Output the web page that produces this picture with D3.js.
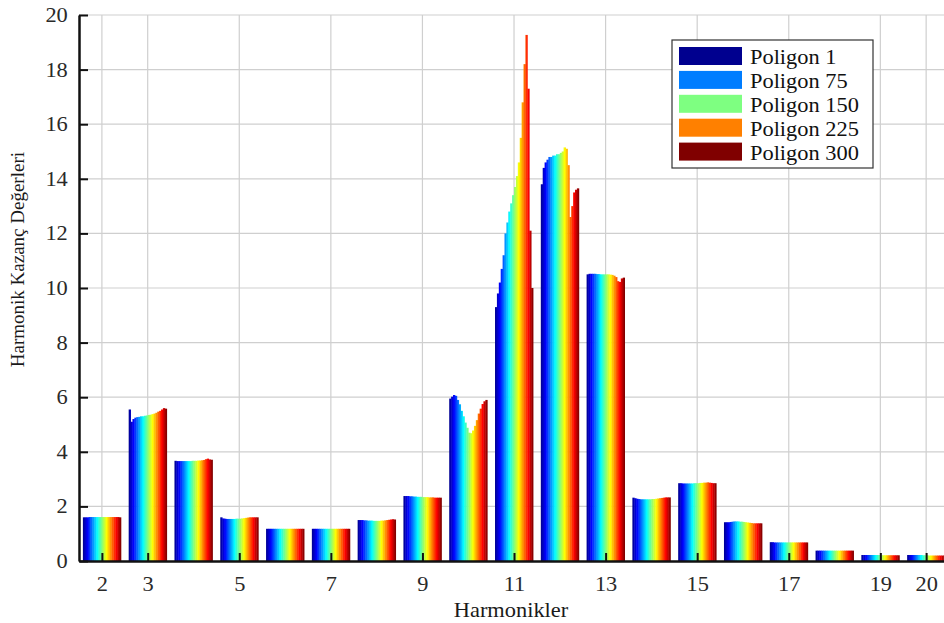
<!DOCTYPE html>
<html>
<head>
<meta charset="utf-8">
<script src="https://cdn.jsdelivr.net/npm/d3@7"></script>
<style>
  body { margin: 0; background: #fff; }
  svg text { font-family: "Liberation Serif", "Times New Roman", serif; }
</style>
</head>
<body>
<div id="chart"></div>
<script>
// harmonic orders (one bar group each) and the labelled ticks
const harmonics = [2, 3, 4, 5, 6, 7, 8, 9, 10, 11, 12, 13, 14, 15, 16, 17, 18, 19, 20];
const tickHarmonics = [2, 3, 5, 7, 9, 11, 13, 15, 17, 19, 20];
const yTicks = [0, 2, 4, 6, 8, 10, 12, 14, 16, 18, 20];

// polygon numbers read across each group (1 .. 300)
const polygons = [1, 16, 32, 48, 63, 79, 95, 111, 126, 142, 158, 174, 189, 205, 221, 237, 252, 268, 284, 300];
const legendPolygons = [1, 75, 150, 225, 300];

// gain values per harmonic, one value per polygon above
const h2  = [1.6, 1.6, 1.6, 1.61, 1.61, 1.61, 1.61, 1.61, 1.61, 1.61, 1.61, 1.61, 1.61, 1.61, 1.61, 1.61, 1.61, 1.61, 1.61, 1.6];
const h3  = [5.55, 5.1, 5.2, 5.25, 5.27, 5.28, 5.3, 5.3, 5.32, 5.33, 5.35, 5.36, 5.38, 5.4, 5.43, 5.47, 5.5, 5.55, 5.6, 5.58];
const h4  = [3.67, 3.66, 3.66, 3.66, 3.66, 3.66, 3.66, 3.66, 3.66, 3.67, 3.67, 3.67, 3.68, 3.68, 3.69, 3.7, 3.73, 3.75, 3.72, 3.71];
const h5  = [1.6, 1.56, 1.55, 1.54, 1.54, 1.54, 1.54, 1.54, 1.55, 1.55, 1.55, 1.56, 1.57, 1.58, 1.59, 1.6, 1.6, 1.6, 1.6, 1.6];
const h6  = [1.18, 1.18, 1.18, 1.18, 1.18, 1.18, 1.18, 1.18, 1.18, 1.18, 1.18, 1.18, 1.18, 1.18, 1.18, 1.18, 1.18, 1.18, 1.18, 1.18];
const h7  = [1.18, 1.18, 1.18, 1.18, 1.18, 1.18, 1.18, 1.18, 1.18, 1.18, 1.18, 1.18, 1.18, 1.18, 1.18, 1.18, 1.18, 1.18, 1.18, 1.18];
const h8  = [1.5, 1.5, 1.5, 1.49, 1.49, 1.48, 1.48, 1.48, 1.47, 1.47, 1.47, 1.47, 1.48, 1.48, 1.49, 1.5, 1.51, 1.52, 1.53, 1.52];
const h9  = [2.38, 2.38, 2.38, 2.37, 2.37, 2.36, 2.36, 2.35, 2.35, 2.35, 2.34, 2.34, 2.34, 2.33, 2.33, 2.33, 2.32, 2.32, 2.32, 2.32];
const h10 = [5.95, 6.02, 6.08, 6.05, 5.9, 5.74, 5.5, 5.3, 5.07, 4.88, 4.7, 4.68, 4.78, 4.95, 5.16, 5.4, 5.58, 5.75, 5.85, 5.9];
const h11 = [9.3, 9.8, 10.2, 10.7, 11.2, 12.0, 12.4, 12.8, 13.1, 13.4, 13.7, 14.1, 14.6, 15.5, 16.8, 18.2, 19.27, 17.3, 12.1, 10.0];
const h12 = [13.8, 14.4, 14.6, 14.7, 14.8, 14.8, 14.85, 14.85, 14.9, 14.9, 14.95, 15.0, 15.15, 15.1, 14.5, 12.6, 13.0, 13.5, 13.6, 13.65];
const h13 = [10.5, 10.52, 10.52, 10.52, 10.52, 10.51, 10.51, 10.5, 10.5, 10.5, 10.5, 10.5, 10.49, 10.48, 10.45, 10.4, 10.25, 10.22, 10.35, 10.38];
const h14 = [2.32, 2.3, 2.28, 2.27, 2.26, 2.26, 2.26, 2.26, 2.26, 2.26, 2.27, 2.27, 2.28, 2.29, 2.3, 2.31, 2.32, 2.33, 2.33, 2.33];
const h15 = [2.85, 2.85, 2.84, 2.84, 2.84, 2.84, 2.84, 2.84, 2.85, 2.85, 2.85, 2.86, 2.86, 2.87, 2.87, 2.88, 2.87, 2.86, 2.85, 2.85];
const h16 = [1.42, 1.42, 1.42, 1.43, 1.44, 1.45, 1.45, 1.45, 1.44, 1.44, 1.43, 1.42, 1.41, 1.4, 1.39, 1.38, 1.38, 1.38, 1.38, 1.38];
const h17 = [0.69, 0.69, 0.68, 0.68, 0.68, 0.68, 0.68, 0.68, 0.68, 0.68, 0.68, 0.68, 0.68, 0.68, 0.68, 0.68, 0.68, 0.68, 0.68, 0.68];
const h18 = [0.38, 0.38, 0.38, 0.38, 0.38, 0.38, 0.38, 0.38, 0.38, 0.38, 0.38, 0.38, 0.38, 0.38, 0.38, 0.38, 0.38, 0.38, 0.38, 0.38];
const h19 = [0.22, 0.22, 0.22, 0.22, 0.22, 0.22, 0.22, 0.22, 0.22, 0.22, 0.21, 0.21, 0.21, 0.21, 0.21, 0.21, 0.21, 0.21, 0.21, 0.21];
const h20 = [0.22, 0.22, 0.22, 0.22, 0.22, 0.22, 0.22, 0.22, 0.21, 0.21, 0.21, 0.2, 0.2, 0.2, 0.2, 0.2, 0.2, 0.2, 0.2, 0.2];
const gains = [h2, h3, h4, h5, h6, h7, h8, h9, h10, h11, h12, h13, h14, h15, h16, h17, h18, h19, h20];

// jet colormap stops
const jetStops = [0, 0.125, 0.375, 0.625, 0.875, 1];
const jetColors = ["#00008f", "#0000ff", "#00ffff", "#ffff00", "#ff0000", "#800000"];

const W = 944, H = 623;
const margin = {top: 15, right: 0, bottom: 62, left: 79};
const width = W - margin.left - margin.right;
const height = H - margin.top - margin.bottom;
const sx = 1.12; // text in the source is a bit wide
const serif = '"Liberation Serif", "Times New Roman", serif';

const svg = d3.select("#chart").append("svg")
    .attr("width", W)
    .attr("height", H);

const g = svg.append("g").attr("transform", `translate(${margin.left},${margin.top})`);

const x = d3.scaleLinear().domain([1.5, 20.39]).range([0, width]);
const y = d3.scaleLinear().domain([0, 20]).range([height, 0]);
const color = d3.scaleLinear()
    .domain(jetStops.map(t => 1 + t * 299))
    .range(jetColors);

const step = x(3) - x(2);
const groupWidth = step * 0.83;
const xIn = d3.scaleBand().domain(polygons).range([-groupWidth / 2, groupWidth / 2]);

// grid
g.append("g").selectAll("line")
    .data(yTicks.slice(1))
    .enter().append("line")
    .attr("x1", 0).attr("x2", width)
    .attr("y1", d => y(d)).attr("y2", d => y(d))
    .attr("stroke", "#cfcfcf").attr("stroke-width", 1.2);
g.append("g").selectAll("line")
    .data(tickHarmonics)
    .enter().append("line")
    .attr("x1", d => x(d)).attr("x2", d => x(d))
    .attr("y1", 0).attr("y2", height)
    .attr("stroke", "#cfcfcf").attr("stroke-width", 1.2);

// one jet gradient per group, across the group width
const defs = svg.append("defs");
harmonics.forEach(function(h) {
    const grad = defs.append("linearGradient")
        .attr("id", "jet" + h)
        .attr("gradientUnits", "userSpaceOnUse")
        .attr("x1", x(h) - groupWidth / 2).attr("x2", x(h) + groupWidth / 2)
        .attr("y1", 0).attr("y2", 0);
    jetStops.forEach(function(t, i) {
        grad.append("stop").attr("offset", t).attr("stop-color", jetColors[i]);
    });
});

// bars
const groups = g.append("g").selectAll("g")
    .data(harmonics)
    .enter().append("g");

groups.selectAll("rect")
    .data((h, i) => gains[i].map((v, j) => ({h: h, p: polygons[j], v: v})))
    .enter().append("rect")
    .attr("x", d => x(d.h) + xIn(d.p))
    .attr("width", xIn.bandwidth() + 0.4)
    .attr("y", d => y(d.v))
    .attr("height", d => y(0) - y(d.v))
    .attr("fill", d => "url(#jet" + d.h + ")");

// axes
const yAxis = g.append("g")
    .call(d3.axisLeft(y).tickValues(yTicks).tickSizeInner(-9).tickSizeOuter(0).tickPadding(10));
const xAxis = g.append("g")
    .attr("transform", `translate(0,${height})`)
    .call(d3.axisBottom(x).tickValues(tickHarmonics).tickSizeInner(-8).tickSizeOuter(0).tickPadding(16));

[yAxis, xAxis].forEach(function(ax) {
    ax.attr("font-family", null).attr("font-size", null);
    ax.select(".domain").attr("stroke", "#111").attr("stroke-width", 2.5);
    ax.selectAll(".tick line").attr("stroke", "#111").attr("stroke-width", 2);
    ax.selectAll(".tick text")
        .style("font-family", serif)
        .style("font-size", "20px")
        .attr("fill", "#2a2a2a")
        .attr("transform", `scale(${sx},1)`);
});

// axis titles
svg.append("text")
    .attr("transform", `translate(511,617) scale(${sx},1)`)
    .attr("text-anchor", "middle")
    .style("font-family", serif)
    .style("font-size", "20px")
    .attr("fill", "#1a1a1a")
    .text("Harmonikler");

svg.append("text")
    .attr("transform", "translate(24,152) rotate(-90)")
    .attr("text-anchor", "end")
    .style("font-family", serif)
    .style("font-size", "19px")
    .attr("fill", "#1a1a1a")
    .text("Harmonik Kazanç Değerleri");

// legend
const legend = svg.append("g").attr("transform", "translate(672,40)");
legend.append("rect")
    .attr("width", 201).attr("height", 128)
    .attr("fill", "#fff").attr("stroke", "#333").attr("stroke-width", 1.2);

const items = legend.selectAll("g.item")
    .data(legendPolygons)
    .enter().append("g")
    .attr("class", "item")
    .attr("transform", (d, i) => `translate(0,${7 + i * 23.9})`);
items.append("rect")
    .attr("x", 7).attr("width", 63).attr("height", 18)
    .attr("fill", d => color(d));
items.append("text")
    .attr("transform", `translate(78,17) scale(${sx},1)`)
    .style("font-family", serif)
    .style("font-size", "20px")
    .attr("fill", "#111")
    .text(d => "Poligon " + d);
</script>
</body>
</html>
